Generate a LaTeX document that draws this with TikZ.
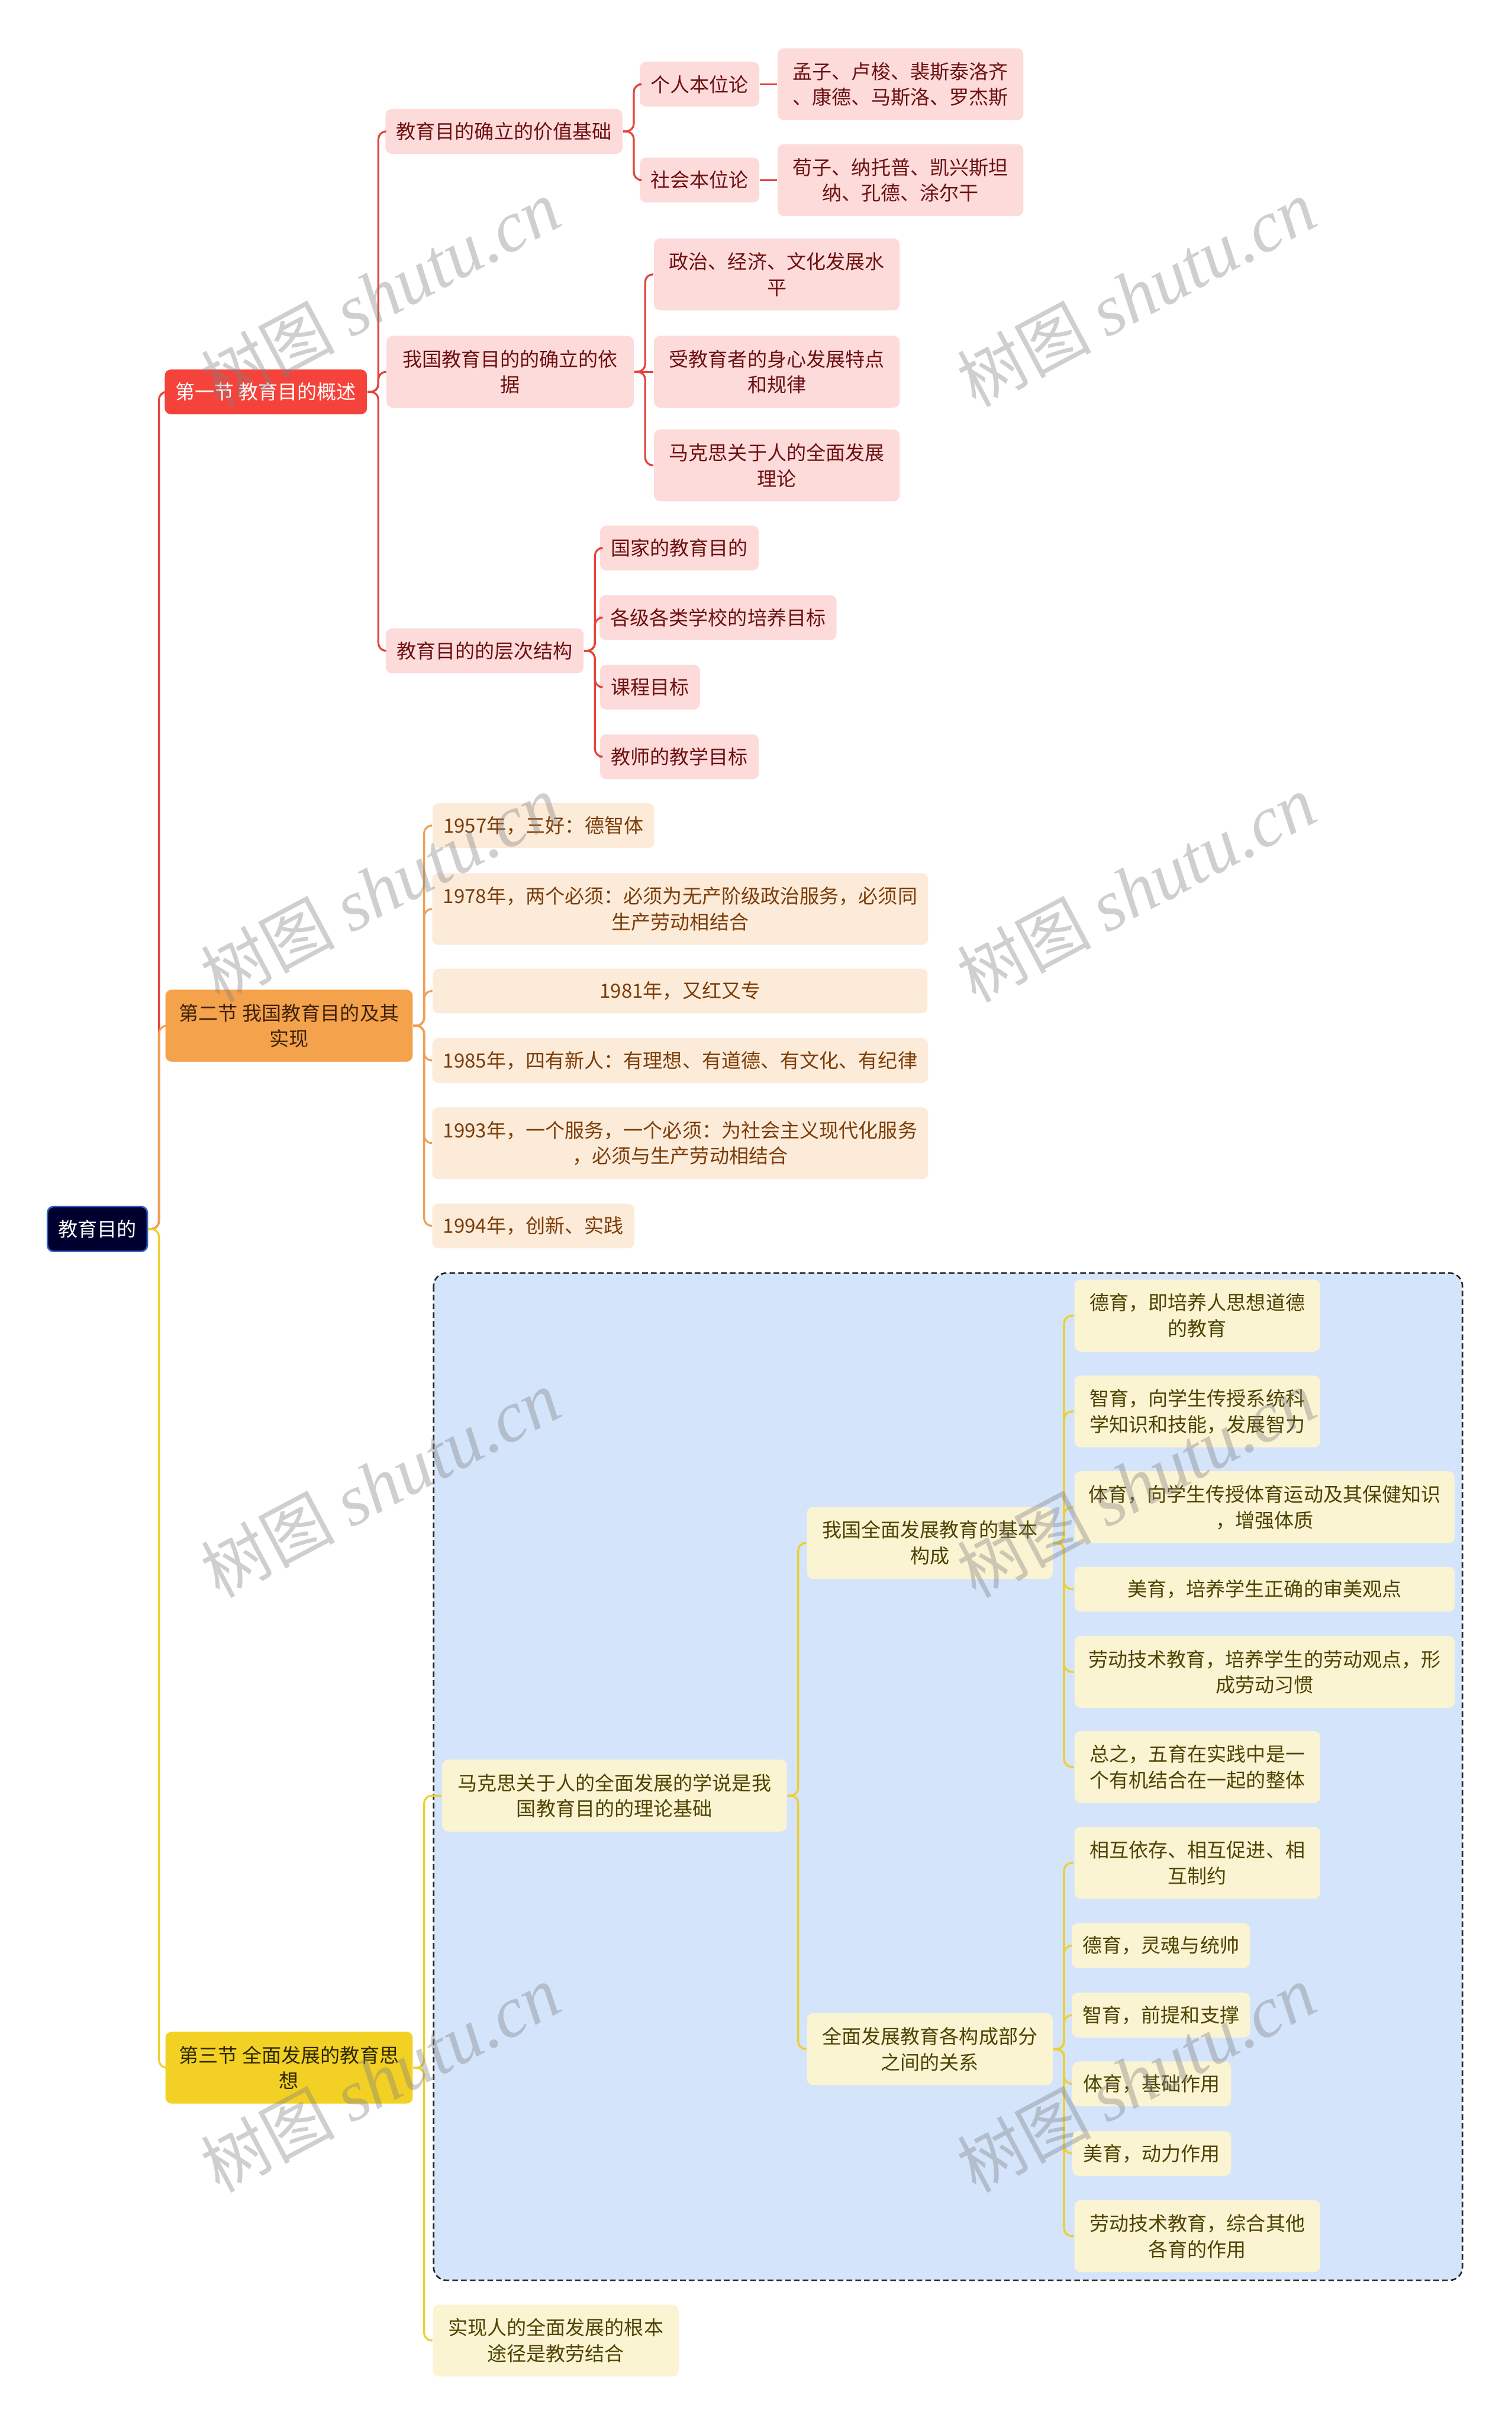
\documentclass[tikz,border=0pt]{standalone}
\usepackage{fontspec}
\setmainfont{Noto Sans CJK SC}
\newfontfamily\wmlatin{Liberation Serif}
\usepackage{xcolor}
\usepackage{tikz}
\usetikzlibrary{positioning,calc}

\definecolor{rootfill}{HTML}{00002E}
\definecolor{rootline}{HTML}{3563C8}
\definecolor{redsec}{HTML}{F5433B}
\definecolor{redleaf}{HTML}{FDDBDB}
\definecolor{redtext}{HTML}{6E1010}
\definecolor{redline}{HTML}{E3453D}
\definecolor{orangesec}{HTML}{F5A24D}
\definecolor{orangeleaf}{HTML}{FCEBD9}
\definecolor{orangetext}{HTML}{7C3D08}
\definecolor{orangedark}{HTML}{3E2208}
\definecolor{orangeline}{HTML}{F0A052}
\definecolor{yellowsec}{HTML}{F2D124}
\definecolor{yellowleaf}{HTML}{FBF4D3}
\definecolor{yellowtext}{HTML}{4E4300}
\definecolor{yellowdark}{HTML}{2E2800}
\definecolor{yellowline}{HTML}{EFCF2C}
\definecolor{groupfill}{HTML}{D4E4FB}

\begin{document}
\begin{tikzpicture}[
    x=0.6pt, y=-0.6pt,
    mapbox/.style={rectangle, rounded corners=2.4pt, align=center,
                   font=\fontsize{7.6}{10}\selectfont,
                   inner xsep=4.2pt, inner ysep=0pt, minimum height=17.4pt},
    tall/.style={minimum height=27.9pt},
    boxw/.style={minimum width=#1*0.6pt},
    rootbox/.style={mapbox, fill=rootfill, draw=rootline, line width=0.6pt, text=white},
    redbox/.style={mapbox, fill=redleaf, text=redtext},
    orangebox/.style={mapbox, fill=orangeleaf, text=orangetext},
    yellowbox/.style={mapbox, fill=yellowleaf, text=yellowtext},
    link/.style={line width=0.75pt, rounded corners=3pt},
    groupbox/.style={draw=black!85, fill=groupfill, line width=0.6pt,
                     dash pattern=on 2.2pt off 1.2pt, rounded corners=5pt},
    watermark/.style={rotate=28, text=gray, opacity=0.38, inner sep=0pt,
                      font=\fontsize{26}{26}\selectfont}
]
\useasboundingbox (0,0) rectangle (978,1568);

% --- dashed group behind the first branch of section 3 ---
\path[groupbox] (280.5,823.5) rectangle (946,1475);

% --- root ---
\node[rootbox, boxw=62] (root) at (63,795) {教育目的};

% --- three sections ---
\node[mapbox, fill=redsec, text=white, boxw=130] (s1) at (172,253.5) {第一节 教育目的概述};
\node[mapbox, tall, fill=orangesec, text=orangedark, boxw=160] (s2) at (187,663.5)
    {第二节 我国教育目的及其\\实现};
\node[mapbox, tall, fill=yellowsec, text=yellowdark, boxw=160] (s3) at (187,1337.5)
    {第三节 全面发展的教育思\\想};

% --- section 1 ---
\node[redbox, boxw=152] (basis)  at (326,85)    {教育目的确立的价值基础};
\node[redbox, tall, boxw=160] (ground) at (330,240.5) {我国教育目的的确立的依\\据};
\node[redbox, boxw=127] (levels) at (313.5,421) {教育目的的层次结构};

\node[redbox, boxw=77] (indiv)  at (452.5,54.5)  {个人本位论};
\node[redbox, boxw=77] (social) at (452.5,116.5) {社会本位论};
\node[redbox, tall, boxw=159] (indivnames)  at (582.5,54.5)
    {孟子、卢梭、裴斯泰洛齐\\、康德、马斯洛、罗杰斯};
\node[redbox, tall, boxw=159] (socialnames) at (582.5,116.5)
    {荀子、纳托普、凯兴斯坦\\纳、孔德、涂尔干};

\node[redbox, tall, boxw=159] (politics)   at (502.5,177.5) {政治、经济、文化发展水\\平};
\node[redbox, tall, boxw=159] (learner)    at (502.5,240.5) {受教育者的身心发展特点\\和规律};
\node[redbox, tall, boxw=159] (marxtheory) at (502.5,301)   {马克思关于人的全面发展\\理论};

\node[redbox, boxw=101] (national) at (439.5,354.5) {国家的教育目的};
\node[redbox, boxw=151] (school)   at (464.5,399.5) {各级各类学校的培养目标};
\node[redbox, boxw=63]  (course)   at (420.5,444.5) {课程目标};
\node[redbox, boxw=101] (teacher)  at (439.5,489.5) {教师的教学目标};

% --- section 2 ---
\node[orangebox, boxw=143] (y1957) at (351.5,534) {1957年，三好：德智体};
\node[orangebox, tall, boxw=320] (y1978) at (440,588)
    {1978年，两个必须：必须为无产阶级政治服务，必须同\\生产劳动相结合};
\node[orangebox, boxw=320] (y1981) at (440,641) {1981年，又红又专};
\node[orangebox, boxw=320] (y1985) at (440,686) {1985年，四有新人：有理想、有道德、有文化、有纪律};
\node[orangebox, tall, boxw=320] (y1993) at (440,739.5)
    {1993年，一个服务，一个必须：为社会主义现代化服务\\，必须与生产劳动相结合};
\node[orangebox, boxw=130] (y1994) at (345,793) {1994年，创新、实践};

% --- section 3 ---
\node[yellowbox, tall, boxw=223] (marxbasis) at (397.5,1161.5)
    {马克思关于人的全面发展的学说是我\\国教育目的的理论基础};
\node[yellowbox, tall, boxw=159] (rootway) at (359.5,1514)
    {实现人的全面发展的根本\\途径是教劳结合};

\node[yellowbox, tall, boxw=159] (components) at (601.5,998)    {我国全面发展教育的基本\\构成};
\node[yellowbox, tall, boxw=159] (relations)  at (601.5,1325.5) {全面发展教育各构成部分\\之间的关系};

\node[yellowbox, tall, boxw=159] (moral)     at (774.5,851)  {德育，即培养人思想道德\\的教育};
\node[yellowbox, tall, boxw=159] (intellect) at (774.5,913)  {智育，向学生传授系统科\\学知识和技能，发展智力};
\node[yellowbox, tall, boxw=246] (physical)  at (818,975)    {体育，向学生传授体育运动及其保健知识\\，增强体质};
\node[yellowbox, boxw=246]       (aesthetic) at (818,1028)   {美育，培养学生正确的审美观点};
\node[yellowbox, tall, boxw=246] (labour)    at (818,1081.5) {劳动技术教育，培养学生的劳动观点，形\\成劳动习惯};
\node[yellowbox, tall, boxw=159] (wholeness) at (774.5,1143) {总之，五育在实践中是一\\个有机结合在一起的整体};

\node[yellowbox, tall, boxw=159] (mutual)     at (774.5,1205)  {相互依存、相互促进、相\\互制约};
\node[yellowbox, boxw=113]       (moralrole)  at (751,1258.5)  {德育，灵魂与统帅};
\node[yellowbox, boxw=113]       (intelrole)  at (751,1303.5)  {智育，前提和支撑};
\node[yellowbox, boxw=100]       (physrole)   at (745,1348)    {体育，基础作用};
\node[yellowbox, boxw=100]       (aesrole)    at (745,1393)    {美育，动力作用};
\node[yellowbox, tall, boxw=159] (labourrole) at (774.5,1446.5) {劳动技术教育，综合其他\\各育的作用};

% --- connectors: root to sections ---
\draw[link, redline]    (root.east) -- ++(7,0) |- (s1.west);
\draw[link, orangeline] (root.east) -- ++(7,0) |- (s2.west);
\draw[link, yellowline] (root.east) -- ++(7,0) |- (s3.west);

% --- connectors: section 1 ---
\foreach \kid in {basis,ground,levels}
    \draw[link, redline] (s1.east) -- ++(7,0) |- (\kid.west);
\foreach \kid in {indiv,social}
    \draw[link, redline] (basis.east) -- ++(7,0) |- (\kid.west);
\draw[link, redline] (indiv.east) -- (indivnames.west);
\draw[link, redline] (social.east) -- (socialnames.west);
\foreach \kid in {politics,marxtheory}
    \draw[link, redline] (ground.east) -- ++(7,0) |- (\kid.west);
\draw[link, redline] (ground.east) -- (learner.west);
\foreach \kid in {national,school,course,teacher}
    \draw[link, redline] (levels.east) -- ++(7,0) |- (\kid.west);

% --- connectors: section 2 ---
\foreach \kid in {y1957,y1978,y1981,y1985,y1993,y1994}
    \draw[link, orangeline] (s2.east) -- ++(7,0) |- (\kid.west);

% --- connectors: section 3 ---
\foreach \kid in {marxbasis,rootway}
    \draw[link, yellowline] (s3.east) -- ++(7,0) |- (\kid.west);
\foreach \kid in {components,relations}
    \draw[link, yellowline] (marxbasis.east) -- ++(7,0) |- (\kid.west);
\foreach \kid in {moral,intellect,physical,aesthetic,labour,wholeness}
    \draw[link, yellowline] (components.east) -- ++(7,0) |- (\kid.west);
\foreach \kid in {mutual,moralrole,intelrole,physrole,aesrole,labourrole}
    \draw[link, yellowline] (relations.east) -- ++(7,0) |- (\kid.west);

% --- watermark grid ---
\foreach \wy in {190,575,960,1345}
    \foreach \wx in {246,735}
        \node[watermark] (wm-\wx-\wy) at (\wx,\wy) {树图 {\wmlatin\itshape\fontsize{28}{28}\selectfont shutu.cn}};

\end{tikzpicture}
\end{document}
